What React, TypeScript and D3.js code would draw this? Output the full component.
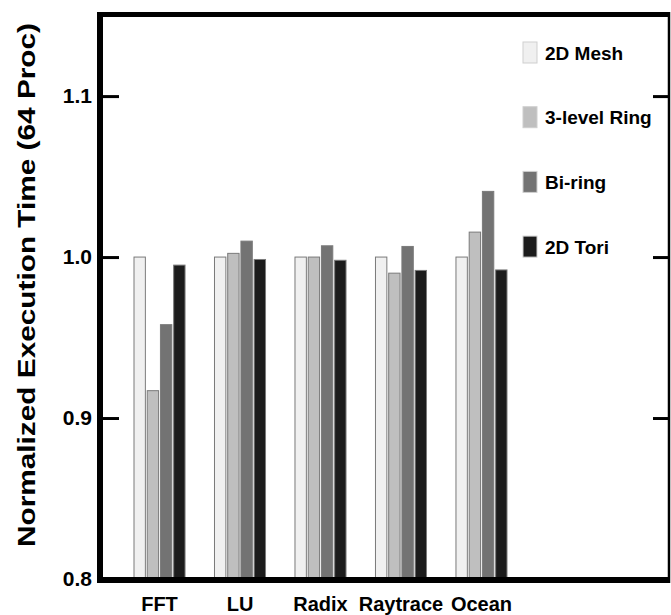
import React, { useEffect, useRef } from "react";
import * as d3 from "d3";

const categories = ["FFT", "LU", "Radix", "Raytrace", "Ocean"];
const seriesNames = ["2D Mesh", "3-level Ring", "Bi-ring", "2D Tori"];
const mesh = [1.0, 1.0, 1.0, 1.0, 1.0];
const ring3 = [0.917, 1.0023, 1.0, 0.99, 1.0155];
const biring = [0.958, 1.0099, 1.007, 1.0066, 1.0408];
const tori = [0.995, 0.9985, 0.998, 0.9917, 0.992];
const yTicks = [0.8, 0.9, 1.0, 1.1];
const colors = ["#f0f0f0", "#bfbfbf", "#737373", "#1c1c1c"];

const W = 671;
const H = 615;

const App = () => {
  const ref = useRef(null);

  useEffect(() => {
    const values = [mesh, ring3, biring, tori];
    const svg = d3.select(ref.current);
    svg.selectAll("*").remove();

    const left = 100, right = 668, top = 14, bottom = 579;
    const font = "'Liberation Sans', Arial, sans-serif";

    const x = d3.scaleBand()
      .domain(categories)
      .range([134, 507])
      .paddingInner(0.366)
      .paddingOuter(0);

    const xs = d3.scaleBand()
      .domain(seriesNames)
      .range([0, x.bandwidth()])
      .paddingInner(0.14);

    const y = d3.scaleLinear()
      .domain([0.8, 1.151])
      .range([bottom, top]);

    // bars
    const g = svg.append("g");
    seriesNames.forEach((s, si) => {
      g.selectAll(".bar" + si)
        .data(categories)
        .enter()
        .append("rect")
        .attr("x", (c) => x(c) + xs(s))
        .attr("width", xs.bandwidth())
        .attr("y", (c, i) => y(values[si][i]))
        .attr("height", (c, i) => bottom - y(values[si][i]))
        .attr("fill", colors[si])
        .attr("stroke", "#7a7a7a")
        .attr("stroke-width", 1);
    });

    // left axis
    const la = svg.append("g")
      .attr("transform", "translate(" + left + ",0)")
      .call(d3.axisLeft(y).tickValues(yTicks).tickFormat(d3.format(".1f")).tickSizeInner(-19).tickSizeOuter(0).tickPadding(8));
    la.select(".domain").remove();
    la.selectAll("line").attr("stroke", "#000").attr("stroke-width", 3).attr("x1", 3);
    la.selectAll("text")
      .attr("font-family", font)
      .attr("font-weight", "bold")
      .attr("font-size", 21)
      .attr("fill", "#000")
      .attr("x", -8);

    // right axis ticks
    const ra = svg.append("g")
      .attr("transform", "translate(" + right + ",0)")
      .call(d3.axisRight(y).tickValues(yTicks.slice(1)).tickFormat("").tickSizeInner(-15).tickSizeOuter(0));
    ra.select(".domain").remove();
    ra.selectAll("line").attr("stroke", "#000").attr("stroke-width", 3);

    // frame
    svg.append("line").attr("x1", 100).attr("x2", 100).attr("y1", 12).attr("y2", 583)
      .attr("stroke", "#000").attr("stroke-width", 6);
    svg.append("line").attr("x1", 97).attr("x2", 670).attr("y1", 580).attr("y2", 580)
      .attr("stroke", "#000").attr("stroke-width", 6);
    svg.append("line").attr("x1", 97).attr("x2", 670).attr("y1", 14.5).attr("y2", 14.5)
      .attr("stroke", "#000").attr("stroke-width", 5);
    svg.append("line").attr("x1", 669).attr("x2", 669).attr("y1", 12).attr("y2", 583)
      .attr("stroke", "#000").attr("stroke-width", 2.5);

    // x labels
    svg.selectAll(".xlab")
      .data(categories)
      .enter()
      .append("text")
      .attr("x", (c) => x(c) + x.bandwidth() / 2)
      .attr("y", 611)
      .attr("text-anchor", "middle")
      .attr("font-family", font)
      .attr("font-weight", "bold")
      .attr("font-size", 20)
      .text((c) => c);

    // y title
    svg.append("text")
      .attr("transform", "translate(35,285) rotate(-90)")
      .attr("text-anchor", "middle")
      .attr("font-family", font)
      .attr("font-weight", "bold")
      .attr("font-size", 24)
      .attr("textLength", 524)
      .attr("lengthAdjust", "spacingAndGlyphs")
      .text("Normalized Execution Time (64 Proc)");

    // legend
    const lg = svg.selectAll(".leg")
      .data(seriesNames)
      .enter()
      .append("g")
      .attr("transform", (d, i) => "translate(523," + (42 + i * 64.7) + ")");
    lg.append("rect")
      .attr("width", 14)
      .attr("height", 21)
      .attr("fill", (d, i) => colors[i])
      .attr("stroke", "#cfcfcf")
      .attr("stroke-width", 1);
    lg.append("text")
      .attr("x", 22)
      .attr("y", 17.5)
      .attr("font-family", font)
      .attr("font-weight", "bold")
      .attr("font-size", 19)
      .text((d) => d);
  }, []);

  return (
    <svg ref={ref} width={W} height={H} style={{ position: "absolute", left: 0, top: 0, background: "#fff" }} />
  );
};

export default App;
